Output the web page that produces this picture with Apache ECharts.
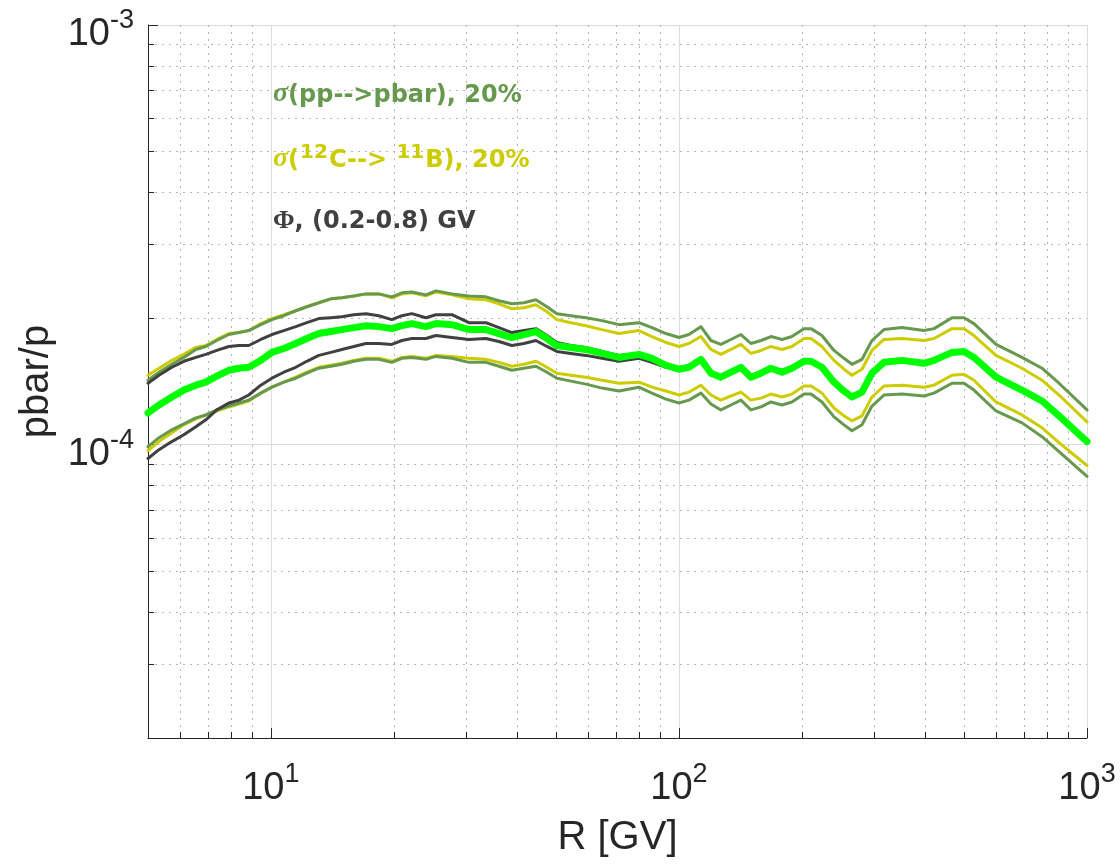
<!DOCTYPE html>
<html>
<head>
<meta charset="utf-8">
<script src="https://cdn.jsdelivr.net/npm/echarts@6/dist/echarts.min.js"></script>
<style>
html,body{margin:0;padding:0;background:#ffffff;}
#chart{width:1120px;height:865px;}
</style>
</head>
<body>
<div id="chart"></div>
<script>
// Rigidity R [GV]
const R = [5.00, 5.32, 5.72, 6.12, 6.55, 6.93, 7.37, 7.89, 8.35, 8.83,
  9.45, 10.06, 10.76, 11.51, 12.25, 13.11, 14.03, 14.93, 15.97, 17.10,
  18.39, 19.79, 20.95, 22.16, 23.99, 25.38, 27.78, 30.57, 33.65, 36.22,
  38.96, 41.70, 44.63, 47.48, 50.23, 54.35, 59.17, 64.78, 71.29, 79.80,
  85.87, 92.92, 100.0, 105.8, 113.2, 119.8, 126.7, 134.1, 141.9, 150.1,
  158.9, 168.1, 178.9, 189.2, 202.5, 210.7, 224.1, 239.9, 253.8, 265.5,
  280.9, 297.2, 318.0, 352.2, 398.7, 421.7, 466.9, 499.5, 528.4, 598.4,
  693.0, 775.8, 853.9, 1000];

// pbar/p values, in units of 1e-4
const UNIT = 1e-4;
const ppUpper = [1.424, 1.488, 1.554, 1.614, 1.686, 1.714, 1.771, 1.830, 1.850, 1.870,
  1.932, 1.986, 2.029, 2.085, 2.131, 2.178, 2.226, 2.238, 2.262, 2.287,
  2.287, 2.250, 2.300, 2.312, 2.275, 2.325, 2.287, 2.262, 2.250, 2.202,
  2.166, 2.178, 2.214, 2.131, 2.052, 2.029, 2.007, 1.975, 1.932, 1.953,
  1.901, 1.840, 1.800, 1.830, 1.911, 1.771, 1.733, 1.781, 1.830, 1.742,
  1.771, 1.810, 1.781, 1.810, 1.890, 1.890, 1.820, 1.677, 1.606, 1.554,
  1.597, 1.771, 1.880, 1.901, 1.870, 1.890, 2.007, 2.007, 1.943, 1.733,
  1.614, 1.521, 1.401, 1.210];
const ppLower = [0.989, 1.039, 1.085, 1.121, 1.158, 1.177, 1.210, 1.236, 1.257, 1.277,
  1.327, 1.371, 1.409, 1.440, 1.480, 1.521, 1.538, 1.554, 1.580, 1.597,
  1.597, 1.571, 1.606, 1.614, 1.597, 1.623, 1.606, 1.571, 1.571, 1.538,
  1.504, 1.521, 1.538, 1.488, 1.440, 1.417, 1.394, 1.364, 1.342, 1.371,
  1.327, 1.284, 1.257, 1.277, 1.327, 1.250, 1.210, 1.243, 1.277, 1.210,
  1.230, 1.264, 1.243, 1.264, 1.320, 1.320, 1.264, 1.165, 1.115, 1.079,
  1.115, 1.236, 1.313, 1.320, 1.306, 1.327, 1.401, 1.401, 1.349, 1.203,
  1.127, 1.045, 0.963, 0.840];
const cbUpper = [1.464, 1.521, 1.588, 1.641, 1.705, 1.723, 1.781, 1.840, 1.850, 1.870,
  1.943, 1.997, 2.040, 2.085, 2.131, 2.178, 2.226, 2.238, 2.262, 2.287,
  2.287, 2.238, 2.287, 2.300, 2.262, 2.312, 2.275, 2.226, 2.214, 2.166,
  2.108, 2.119, 2.154, 2.074, 1.986, 1.953, 1.921, 1.880, 1.840, 1.870,
  1.810, 1.752, 1.714, 1.742, 1.810, 1.686, 1.641, 1.686, 1.733, 1.650,
  1.677, 1.714, 1.686, 1.714, 1.790, 1.790, 1.714, 1.588, 1.513, 1.464,
  1.513, 1.677, 1.781, 1.790, 1.771, 1.790, 1.890, 1.890, 1.820, 1.632,
  1.521, 1.424, 1.313, 1.133];
const cbLower = [0.968, 1.017, 1.068, 1.115, 1.152, 1.177, 1.203, 1.230, 1.250, 1.271,
  1.327, 1.371, 1.409, 1.448, 1.488, 1.529, 1.546, 1.563, 1.588, 1.606,
  1.606, 1.580, 1.614, 1.623, 1.606, 1.632, 1.623, 1.606, 1.597, 1.571,
  1.538, 1.554, 1.580, 1.529, 1.480, 1.464, 1.448, 1.424, 1.401, 1.409,
  1.371, 1.342, 1.313, 1.334, 1.386, 1.313, 1.277, 1.306, 1.334, 1.277,
  1.291, 1.320, 1.299, 1.320, 1.379, 1.379, 1.327, 1.223, 1.171, 1.140,
  1.171, 1.299, 1.379, 1.386, 1.371, 1.386, 1.464, 1.472, 1.424, 1.264,
  1.177, 1.097, 1.011, 0.892];
const phiUpper = [1.401, 1.464, 1.529, 1.580, 1.614, 1.641, 1.677, 1.714, 1.723, 1.723,
  1.781, 1.830, 1.870, 1.911, 1.953, 1.997, 2.007, 2.018, 2.040, 2.052,
  2.029, 1.986, 2.029, 2.052, 2.007, 2.040, 2.040, 1.953, 1.953, 1.901,
  1.850, 1.870, 1.890, 1.820, 1.752, 1.723, 1.705, 1.668, 1.632, 1.650,
  1.614, 1.554, 1.521, 1.529, 1.597, 1.480, 1.448, 1.488, 1.529, 1.448,
  1.480, 1.521, 1.488, 1.521, 1.580, 1.580, 1.529, 1.409, 1.342, 1.299,
  1.334, 1.480, 1.571, 1.588, 1.563, 1.588, 1.659, 1.668, 1.614, 1.448,
  1.349, 1.271, 1.171, 1.017];
const phiLower = [0.927, 0.973, 1.017, 1.056, 1.103, 1.146, 1.210, 1.257, 1.277, 1.313,
  1.386, 1.440, 1.488, 1.529, 1.580, 1.632, 1.659, 1.686, 1.714, 1.742,
  1.742, 1.733, 1.771, 1.790, 1.790, 1.820, 1.800, 1.781, 1.790, 1.761,
  1.723, 1.742, 1.771, 1.714, 1.668, 1.650, 1.632, 1.606, 1.580, 1.606,
  1.571, 1.529, 1.504, 1.529, 1.597, 1.480, 1.448, 1.488, 1.529, 1.448,
  1.480, 1.521, 1.488, 1.521, 1.580, 1.580, 1.529, 1.409, 1.342, 1.299,
  1.334, 1.480, 1.571, 1.588, 1.563, 1.588, 1.659, 1.668, 1.614, 1.448,
  1.349, 1.271, 1.171, 1.017];
const central = [1.190, 1.243, 1.299, 1.349, 1.386, 1.409, 1.456, 1.504, 1.521, 1.529,
  1.588, 1.659, 1.695, 1.742, 1.790, 1.840, 1.860, 1.880, 1.901, 1.921,
  1.911, 1.890, 1.921, 1.943, 1.911, 1.943, 1.932, 1.880, 1.880, 1.840,
  1.800, 1.830, 1.860, 1.790, 1.723, 1.705, 1.686, 1.650, 1.614, 1.641,
  1.606, 1.546, 1.513, 1.529, 1.597, 1.480, 1.448, 1.488, 1.529, 1.448,
  1.480, 1.521, 1.488, 1.521, 1.580, 1.580, 1.529, 1.409, 1.342, 1.299,
  1.334, 1.480, 1.571, 1.588, 1.563, 1.588, 1.659, 1.668, 1.614, 1.448,
  1.349, 1.271, 1.171, 1.017];

// axis range and minor tick values
const X_MIN = 5, X_MAX = 1000, Y_MIN = 2e-5, Y_MAX = 1e-3;
const xMinorTicks = [6, 7, 8, 9, 20, 30, 40, 50, 60, 70, 80, 90, 200, 300, 400, 500, 600, 700, 800, 900];
const yMinorTicks = [3e-5, 4e-5, 5e-5, 6e-5, 7e-5, 8e-5, 9e-5, 2e-4, 3e-4, 4e-4, 5e-4, 6e-4, 7e-4, 8e-4, 9e-4];

const C_PP = '#66994d', C_CB = '#cccc00', C_PHI = '#404040', C_MAIN = '#00ff00';
const AX = '#262626';
const FONT = 'Liberation Sans, Arial, Helvetica, sans-serif';

function pairs(vals) { return R.map((r, i) => [r, vals[i] * UNIT]); }

function powLabel(v) {
  const e = Math.log10(v);
  const r = Math.round(e);
  if (Math.abs(e - r) > 1e-6) return '';
  return '{b|10}{s|' + r + '}';
}
const labelRich = {
  b: { fontSize: 38, fontFamily: FONT, color: AX, lineHeight: 58, verticalAlign: 'bottom' },
  s: { fontSize: 27, fontFamily: FONT, color: AX, verticalAlign: 'bottom', padding: [0, 0, 20, 0] }
};

function crisp(v) { return Math.round(v) + 0.5; }

function renderMinorX(params, api) {
  const x = api.value(0);
  const top = api.coord([x, Y_MAX]);
  const bot = api.coord([x, Y_MIN]);
  const px = crisp(top[0]);
  return {
    type: 'group',
    children: [
      { type: 'line', shape: { x1: px, y1: top[1], x2: px, y2: bot[1] },
        style: { stroke: '#b4b4b4', lineWidth: 1, lineDash: [2, 5] } },
      { type: 'line', shape: { x1: px, y1: bot[1], x2: px, y2: bot[1] - 6 },
        style: { stroke: AX, lineWidth: 1 } }
    ]
  };
}
function renderMinorY(params, api) {
  const y = api.value(1);
  const left = api.coord([X_MIN, y]);
  const right = api.coord([X_MAX, y]);
  const py = crisp(left[1]);
  return {
    type: 'group',
    children: [
      { type: 'line', shape: { x1: left[0], y1: py, x2: right[0], y2: py },
        style: { stroke: '#b4b4b4', lineWidth: 1, lineDash: [2, 5] } },
      { type: 'line', shape: { x1: left[0], y1: py, x2: left[0] + 6, y2: py },
        style: { stroke: AX, lineWidth: 1 } }
    ]
  };
}

function lineSeries(name, vals, color, width, z) {
  return {
    name: name, type: 'line', data: pairs(vals),
    showSymbol: false, symbol: 'none', smooth: false, z: z,
    lineStyle: { color: color, width: width, join: 'round', cap: 'round' },
    emphasis: { disabled: true }, silent: true
  };
}

const chart = echarts.init(document.getElementById('chart'), null, { renderer: 'canvas' });

const TXT = 'DejaVu Sans, Verdana, sans-serif';
const SERIF = 'Liberation Serif, Times New Roman, serif';

chart.setOption({
  animation: false,
  backgroundColor: '#ffffff',
  grid: { left: 148, right: 33, top: 25, bottom: 127, containLabel: false, outerBoundsMode: 'none' },
  xAxis: {
    type: 'log', logBase: 10, min: X_MIN, max: X_MAX,
    name: 'R [GV]', nameLocation: 'middle', nameGap: 80,
    nameTextStyle: { fontSize: 40, fontFamily: FONT, color: AX, verticalAlign: 'top' },
    axisLine: { show: true, lineStyle: { color: AX, width: 1 } },
    axisTick: { show: true, inside: true, length: 10, lineStyle: { color: AX, width: 1 } },
    axisLabel: { margin: 12, formatter: powLabel, rich: labelRich, showMinLabel: false },
    splitLine: { show: true, lineStyle: { color: '#dcdcdc', width: 1 } },
    minorTick: { show: false }, minorSplitLine: { show: false }
  },
  yAxis: {
    type: 'log', logBase: 10, min: Y_MIN, max: Y_MAX,
    name: 'pbar/p', nameLocation: 'middle', nameGap: 88, nameRotate: 90,
    nameTextStyle: { fontSize: 40, fontFamily: FONT, color: AX },
    axisLine: { show: true, lineStyle: { color: AX, width: 1 } },
    axisTick: { show: true, inside: true, length: 10, lineStyle: { color: AX, width: 1 } },
    axisLabel: { margin: 14, formatter: powLabel, rich: labelRich, showMinLabel: false },
    splitLine: { show: true, lineStyle: { color: '#dcdcdc', width: 1 } },
    minorTick: { show: false }, minorSplitLine: { show: false }
  },
  series: [
    { type: 'custom', name: 'xminor', renderItem: renderMinorX, silent: true, z: 1, clip: false,
      data: xMinorTicks.map(v => [v, 1e-4]) },
    { type: 'custom', name: 'yminor', renderItem: renderMinorY, silent: true, z: 1, clip: false,
      data: yMinorTicks.map(v => [10, v]) },
    lineSeries('cbUpper', cbUpper, C_CB, 3, 2),
    lineSeries('cbLower', cbLower, C_CB, 3, 2),
    lineSeries('ppUpper', ppUpper, C_PP, 3, 3),
    lineSeries('ppLower', ppLower, C_PP, 3, 3),
    lineSeries('phiUpper', phiUpper, C_PHI, 3, 4),
    lineSeries('phiLower', phiLower, C_PHI, 3, 4),
    lineSeries('central', central, C_MAIN, 7, 5)
  ],
  graphic: [
    { type: 'text', x: 273, y: 78, silent: true, z: 10,
      style: {
        text: '{g|σ}{t|(pp-->pbar), 20%}',
        verticalAlign: 'top',
        rich: {
          g: { fontFamily: SERIF, fontStyle: 'italic', fontWeight: 'bold', fontSize: 28, fill: C_PP, lineHeight: 30, verticalAlign: 'bottom' },
          t: { fontFamily: TXT, fontWeight: 'bold', fontSize: 24, fill: C_PP, lineHeight: 30, verticalAlign: 'bottom' }
        }
      } },
    { type: 'text', x: 273, y: 143, silent: true, z: 10,
      style: {
        text: '{g|σ}{t|(}{s|12}{t|C--> }{s|11}{t|B), 20%}',
        verticalAlign: 'top',
        rich: {
          g: { fontFamily: SERIF, fontStyle: 'italic', fontWeight: 'bold', fontSize: 28, fill: C_CB, lineHeight: 30, verticalAlign: 'bottom' },
          t: { fontFamily: TXT, fontWeight: 'bold', fontSize: 24, fill: C_CB, lineHeight: 30, verticalAlign: 'bottom' },
          s: { fontFamily: TXT, fontWeight: 'bold', fontSize: 20, fill: C_CB, verticalAlign: 'bottom', padding: [0, 1, 10, 1] }
        }
      } },
    { type: 'text', x: 273, y: 204, silent: true, z: 10,
      style: {
        text: '{g|Φ}{t|, (0.2-0.8) GV}',
        verticalAlign: 'top',
        rich: {
          g: { fontFamily: SERIF, fontWeight: 'bold', fontSize: 26, fill: C_PHI, lineHeight: 30, verticalAlign: 'bottom' },
          t: { fontFamily: TXT, fontWeight: 'bold', fontSize: 24, fill: C_PHI, lineHeight: 30, verticalAlign: 'bottom' }
        }
      } }
  ]
});
</script>
</body>
</html>
